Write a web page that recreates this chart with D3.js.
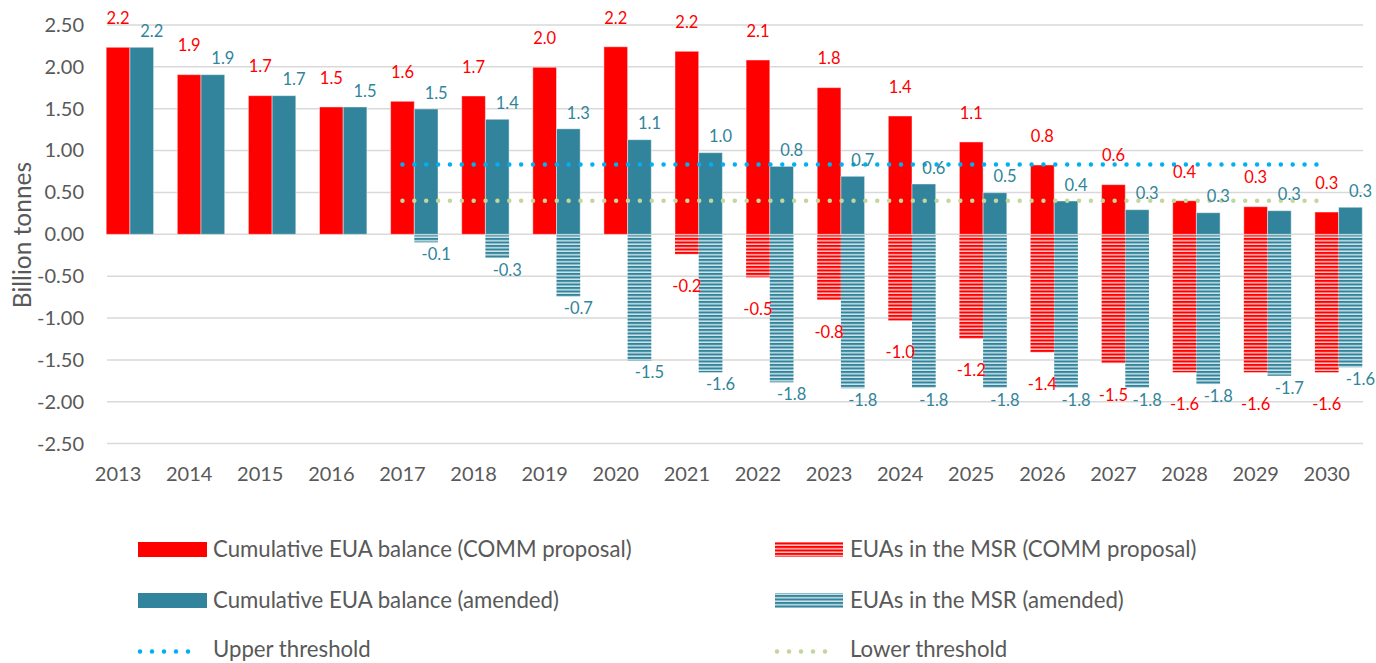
<!DOCTYPE html>
<html>
<head>
<meta charset="utf-8">
<script src="https://cdn.jsdelivr.net/npm/d3@7"></script>
<style>
  html, body { margin: 0; padding: 0; background: #fff; }
  svg { display: block; font-family: Lato, "Open Sans", sans-serif; }
</style>
</head>
<body>
<svg id="chart" width="1376" height="663"></svg>
<script>
const years = [2013, 2014, 2015, 2016, 2017, 2018, 2019, 2020, 2021, 2022, 2023, 2024, 2025, 2026, 2027, 2028, 2029, 2030];
const balanceComm    = [2.234, 1.907, 1.656, 1.521, 1.589, 1.652, 1.995, 2.240, 2.186, 2.082, 1.752, 1.413, 1.103, 0.828, 0.593, 0.401, 0.330, 0.266];
const balanceAmended = [2.234, 1.907, 1.656, 1.521, 1.497, 1.374, 1.260, 1.130, 0.975, 0.812, 0.693, 0.601, 0.497, 0.398, 0.294, 0.258, 0.282, 0.323];
const msrComm        = [null, null, null, null, null, null, null, null, -0.239, -0.514, -0.785, -1.032, -1.247, -1.410, -1.540, -1.649, -1.649, -1.649];
const msrAmended     = [null, null, null, null, -0.096, -0.283, -0.745, -1.510, -1.649, -1.768, -1.840, -1.833, -1.833, -1.833, -1.833, -1.790, -1.690, -1.589];
const upperThreshold = [null, null, null, null, 0.833, 0.833, 0.833, 0.833, 0.833, 0.833, 0.833, 0.833, 0.833, 0.833, 0.833, 0.833, 0.833, 0.833];
const lowerThreshold = [null, null, null, null, 0.400, 0.400, 0.400, 0.400, 0.400, 0.400, 0.400, 0.400, 0.400, 0.400, 0.400, 0.400, 0.400, 0.400];
const yTicks = [-2.5, -2.0, -1.5, -1.0, -0.5, 0, 0.5, 1.0, 1.5, 2.0, 2.5];
const seriesNames = ["Cumulative EUA balance (COMM proposal)", "Cumulative EUA balance (amended)", "Upper threshold",
                     "EUAs in the MSR (COMM proposal)", "EUAs in the MSR (amended)", "Lower threshold"];

const RED = "#FF0000", TEAL = "#31849B", BLUE = "#00B0F0", GREEN = "#C3D69B", TXT = "#595959", GRID = "#D9D9D9";

const svg = d3.select("#chart");
const defs = svg.append("defs");
function stripes(id, dark, light) {
  const p = defs.append("pattern").attr("id", id).attr("patternUnits", "userSpaceOnUse")
    .attr("width", 8).attr("height", 3.5);
  p.append("rect").attr("width", 8).attr("height", 3.5).attr("fill", light);
  p.append("rect").attr("y", 0).attr("width", 8).attr("height", 2).attr("fill", dark);
}
stripes("stripeRed", RED, "#FFC4C4");
stripes("stripeTeal", TEAL, "#CFE4EA");

const x = d3.scaleBand().domain(years).range([82.5, 1362.3]).padding(0);
const y = d3.scaleLinear().domain([-2.5, 2.5]).range([443.6, 25]);
const bw = x.bandwidth() / 3;
const gridX0 = 107, gridX1 = 1363;

// gridlines
svg.append("g").selectAll("line").data(yTicks).join("line")
  .attr("x1", gridX0).attr("x2", gridX1)
  .attr("y1", d => y(d)).attr("y2", d => y(d))
  .attr("stroke", GRID).attr("stroke-width", 1.5);

// y axis labels
const yAxis = d3.axisLeft(y).tickValues(yTicks).tickFormat(d => d.toFixed(2)).tickSize(0).tickPadding(0);
const yg = svg.append("g").attr("transform", `translate(84,0)`).call(yAxis);
yg.select(".domain").remove();
yg.selectAll("text").attr("fill", TXT).style("font-size", "20px").style("font-family", "Lato");

// x axis labels
const xAxis = d3.axisBottom(x).tickSize(0).tickPadding(0);
const xg = svg.append("g").attr("transform", `translate(0,467)`).call(xAxis);
xg.select(".domain").remove();
xg.selectAll("text").attr("fill", TXT).style("font-size", "20px").style("font-family", "Lato");

// y title
svg.append("text").attr("transform", `translate(31,235) rotate(-90)`)
  .attr("text-anchor", "middle").attr("fill", TXT).style("font-size", "24.5px").text("Billion tonnes");

const data = years.map((yr, i) => ({ yr, bc: balanceComm[i], ba: balanceAmended[i], mc: msrComm[i], ma: msrAmended[i] }));

const bars = svg.append("g");
// balance bars
bars.selectAll(".bc").data(data).join("rect")
  .attr("x", d => x(d.yr) + bw).attr("width", bw)
  .attr("y", d => y(d.bc)).attr("height", d => y(0) - y(d.bc))
  .attr("fill", RED).attr("stroke", "rgba(255,255,255,0.45)").attr("stroke-width", 1);
bars.selectAll(".ba").data(data).join("rect")
  .attr("x", d => x(d.yr) + 2 * bw).attr("width", bw)
  .attr("y", d => y(d.ba)).attr("height", d => y(0) - y(d.ba))
  .attr("fill", TEAL).attr("stroke", "rgba(255,255,255,0.45)").attr("stroke-width", 1);
// MSR bars
bars.selectAll(".mc").data(data.filter(d => d.mc != null)).join("rect")
  .attr("x", d => x(d.yr) + bw).attr("width", bw)
  .attr("y", y(0) + 1).attr("height", d => y(d.mc) - y(0) - 1)
  .attr("fill", "url(#stripeRed)");
bars.selectAll(".ma").data(data.filter(d => d.ma != null)).join("rect")
  .attr("x", d => x(d.yr) + 2 * bw).attr("width", bw)
  .attr("y", y(0) + 1).attr("height", d => y(d.ma) - y(0) - 1)
  .attr("fill", "url(#stripeTeal)");

// threshold lines
function thresholdLine(vals, color) {
  const line = d3.line().defined(d => d.v != null).x(d => x(d.yr) + x.bandwidth() / 2).y(d => y(d.v));
  svg.append("path").datum(years.map((yr, i) => ({ yr, v: vals[i] })))
    .attr("d", line).attr("fill", "none").attr("stroke", color)
    .attr("stroke-width", 4.5).attr("stroke-linecap", "round").attr("stroke-dasharray", "0 11.87");
}
thresholdLine(upperThreshold, BLUE);
thresholdLine(lowerThreshold, GREEN);

// data labels
const fmt = v => v.toFixed(1);
const lab = svg.append("g").style("font-size", "16.5px").attr("text-anchor", "middle");
lab.selectAll(".lbc").data(data).join("text")
  .attr("x", d => x(d.yr) + 1.5 * bw).attr("y", d => y(d.bc) - 29).attr("dy", "0.35em")
  .attr("fill", RED).text(d => fmt(d.bc));
lab.selectAll(".lba").data(data).join("text")
  .attr("x", d => x(d.yr) + 2.5 * bw + 10).attr("y", d => y(d.ba) - 16).attr("dy", "0.35em")
  .attr("fill", TEAL).text(d => fmt(d.ba));
lab.selectAll(".lmc").data(data.filter(d => d.mc != null)).join("text")
  .attr("x", d => x(d.yr) + 1.5 * bw).attr("y", d => y(d.mc) + 32).attr("dy", "0.35em")
  .attr("fill", RED).text(d => fmt(d.mc));
lab.selectAll(".lma").data(data.filter(d => d.ma != null)).join("text")
  .attr("x", d => x(d.yr) + 2.5 * bw + 10).attr("y", d => y(d.ma) + 12).attr("dy", "0.35em")
  .attr("fill", TEAL).text(d => fmt(d.ma));

// legend
const leg = svg.append("g").style("font-size", "22.2px").attr("fill", TXT);
const rowsY = [549.5, 600.5, 649.5];
function legText(xp, yp, t) {
  leg.append("text").attr("x", xp).attr("y", yp).attr("dy", "0.35em").attr("fill", TXT).text(t);
}
leg.append("rect").attr("x", 138).attr("y", rowsY[0] - 7.5).attr("width", 69).attr("height", 15).attr("fill", RED);
legText(213, rowsY[0], seriesNames[0]);
leg.append("rect").attr("x", 138).attr("y", rowsY[1] - 7.5).attr("width", 69).attr("height", 15).attr("fill", TEAL);
legText(213, rowsY[1], seriesNames[1]);
leg.append("line").attr("x1", 140).attr("x2", 200).attr("y1", rowsY[2] + 2).attr("y2", rowsY[2] + 2)
  .attr("stroke", BLUE).attr("stroke-width", 4.5).attr("stroke-linecap", "round").attr("stroke-dasharray", "0 12");
legText(213, rowsY[2], seriesNames[2]);
leg.append("rect").attr("x", 775).attr("y", rowsY[0] - 7.5).attr("width", 68).attr("height", 15).attr("fill", "url(#stripeRed)");
legText(850, rowsY[0], seriesNames[3]);
leg.append("rect").attr("x", 775).attr("y", rowsY[1] - 7.5).attr("width", 68).attr("height", 15).attr("fill", "url(#stripeTeal)");
legText(850, rowsY[1], seriesNames[4]);
leg.append("line").attr("x1", 777).attr("x2", 837).attr("y1", rowsY[2] + 2).attr("y2", rowsY[2] + 2)
  .attr("stroke", GREEN).attr("stroke-width", 4.5).attr("stroke-linecap", "round").attr("stroke-dasharray", "0 12");
legText(850, rowsY[2], seriesNames[5]);
</script>
</body>
</html>
